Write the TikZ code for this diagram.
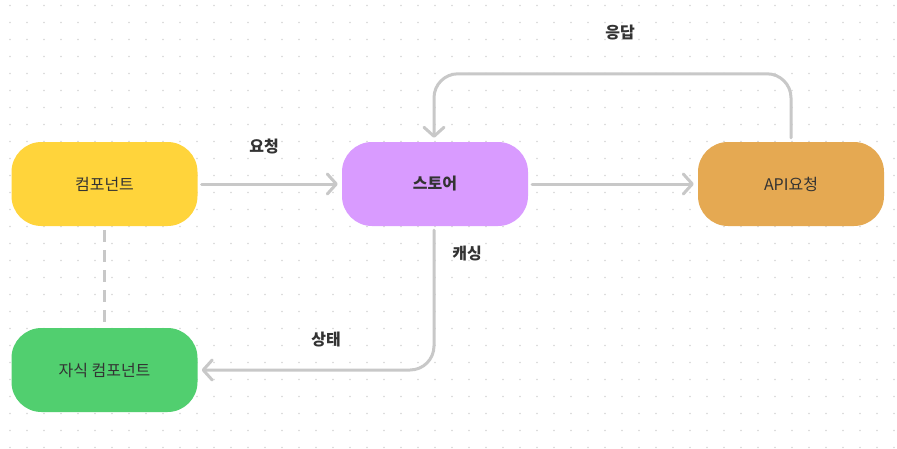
\documentclass[tikz,border=0pt]{standalone}
\usepackage{fontspec}
\setmainfont{Noto Sans CJK KR}
\usetikzlibrary{arrows.meta,calc}
\definecolor{txt}{HTML}{333333}
\definecolor{lineg}{HTML}{C8C8C8}
\definecolor{dotg}{HTML}{D6D6D6}
\definecolor{cyellow}{HTML}{FFD43B}
\definecolor{cpurple}{HTML}{D99BFF}
\definecolor{corange}{HTML}{E5A952}
\definecolor{cgreen}{HTML}{51CF6F}
\begin{document}
\begin{tikzpicture}[x=1pt,y=-1pt,
  box/.style={rectangle, rounded corners=30pt, minimum width=186pt, minimum height=84pt, inner sep=0pt, text=txt, font=\fontsize{16}{19}\selectfont},
  lbl/.style={text=txt, font=\fontsize{16}{19}\selectfont\bfseries, inner sep=0pt},
  conn/.style={draw=lineg, line width=3pt, line cap=round},
  arr/.style={conn, -{Straight Barb[length=9pt,width=20pt,round]}, shorten >=4pt, shorten <=4pt},
]
\useasboundingbox (0,0) rectangle (897,448);
\fill[white] (0,0) rectangle (897,448);
\foreach \i in {0,...,52} {
  \foreach \j in {0,...,26} {
    \fill[dotg] ({10+17*\i},{5.5+17*\j}) circle (0.85pt);
  }
}
\node[box, fill=cyellow] (comp) at (104.5,184) {컴포넌트};
\node[box, fill=cpurple, font=\fontsize{16}{19}\selectfont\bfseries] (store) at (435,184) {스토어};
\node[box, fill=corange] (api) at (791,184) {API요청};
\node[box, fill=cgreen] (child) at (104.5,370) {자식 컴포넌트};

\draw[arr] (comp.east) -- (store.west);
\draw[arr] (store.east) -- (api.west);
\coordinate (top) at ($(store.north)+(-1,-68)$);
\draw[arr, rounded corners=24pt] (api.north) |- (top) -- ($(store.north)+(-1,0)$);
\draw[arr, rounded corners=24pt] ($(store.south)+(-1,0)$) |- (child.east);
\draw[conn, dash pattern=on 12pt off 8pt, line cap=butt, shorten <=4pt, shorten >=3pt] (comp.south) -- (child.north);

\node[lbl] (l1) at (264,146) {요청};
\node[lbl] (l2) at (620,33) {응답};
\node[lbl] (l3) at (467,254) {캐싱};
\node[lbl] (l4) at (326,340) {상태};
\end{tikzpicture}
\end{document}
